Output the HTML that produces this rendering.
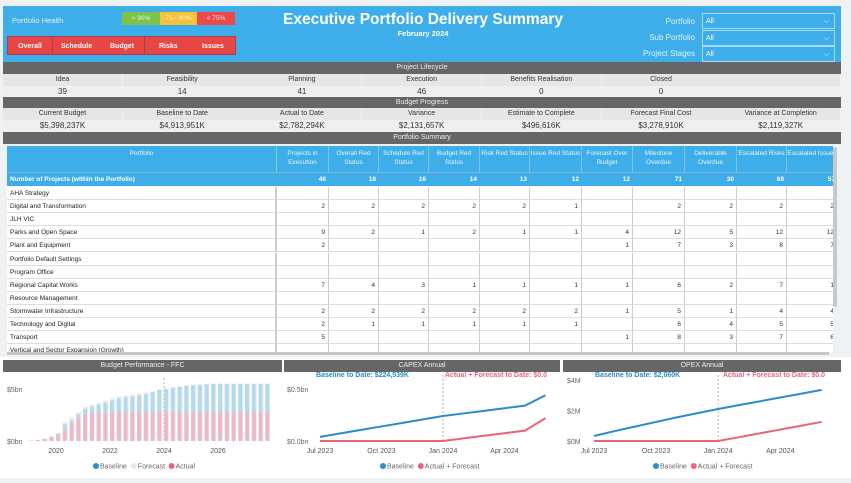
<!DOCTYPE html>
<html><head><meta charset="utf-8">
<style>
*{box-sizing:border-box;margin:0;padding:0}
body{width:851px;height:483px;background:#eef2f5;font-family:"Liberation Sans",sans-serif;position:relative;overflow:hidden}
.a{position:absolute}
.bar{background:#666;color:#eee;font-size:7px;text-align:center;line-height:12px}
.cell{position:absolute;text-align:center;font-size:7px;color:#333}
.h{background:#e6e6e6}.v{background:#efefef;font-size:8px}
.btn{position:absolute;top:36px;height:19px;background:#e84545;color:#fff;font-size:7px;font-weight:bold;line-height:19px;border:1px solid #a04060}
.dd{position:absolute;left:702px;width:133px;height:16px;border:1px solid #a8d8f4;color:#fff;font-size:7px;line-height:15px;padding-left:3px}
.dd span{position:absolute;right:5px;top:0;font-size:7px}
.lbl{position:absolute;right:156px;color:#dff1fb;font-size:8px;text-align:right}
.tc{position:absolute;font-size:6.5px;color:#333;text-align:right;padding-right:3px;border-right:1px solid #ccc;border-bottom:1px solid #ddd;height:13.1px;line-height:13px}
</style></head><body>
<div class="a" style="left:0;top:0;width:851px;height:6px;background:#eef2f5"></div>
<div class="a" style="left:3px;top:6px;width:838px;height:56px;background:#3daee9"></div>
<div class="a" style="left:12px;top:16px;color:#dff1fb;font-size:7.5px">Portfolio Health</div>
<div class="a" style="left:122px;top:12px;width:38px;height:13px;background:#7cc24b;color:#e8f6dd;font-size:6.5px;text-align:center;line-height:13px">&gt; 90%</div>
<div class="a" style="left:160px;top:12px;width:37px;height:13px;background:#f7c23a;color:#fff4d0;font-size:6.5px;text-align:center;line-height:13px">75 - 90%</div>
<div class="a" style="left:197px;top:12px;width:38px;height:13px;background:#ea4a4a;color:#fde;font-size:6.5px;text-align:center;line-height:13px">&lt; 75%</div>
<div class="btn" style="left:7px;width:46px;text-align:center">Overall</div>
<div class="btn" style="left:52px;width:93px"><span style="position:absolute;left:8px">Schedule</span><span style="position:absolute;left:57px">Budget</span></div>
<div class="btn" style="left:144px;width:92px"><span style="position:absolute;left:14px">Risks</span><span style="position:absolute;left:57px">Issues</span></div>
<div class="a" style="left:230px;width:386px;top:11px;text-align:center;color:#fff;font-size:15.5px;font-weight:bold">Executive Portfolio Delivery Summary</div>
<div class="a" style="left:230px;width:386px;top:29px;text-align:center;color:#fff;font-size:7.5px;font-weight:bold">February 2024</div>
<div class="lbl" style="top:17px">Portfolio</div>
<div class="lbl" style="top:33px">Sub Portfolio</div>
<div class="lbl" style="top:49px">Project Stages</div>
<div class="dd" style="top:13px">All<span>⌵</span></div>
<div class="dd" style="top:30px">All<span>⌵</span></div>
<div class="dd" style="top:46px">All<span>⌵</span></div>

<div class="a bar" style="left:3px;top:62px;width:838px;height:12px">Project Lifecycle</div>
<div class="a bar" style="left:3px;top:97px;width:838px;height:11px;line-height:11px">Budget Progress</div>
<div class="a bar" style="left:3px;top:132px;width:838px;height:12px">Portfolio Summary</div>
<div id="kpis"></div>
<div class="a" id="tbl" style="left:7px;top:146px;width:826px;height:206px;overflow:hidden;background:#fff"></div>
<div class="a" style="left:833px;top:147px;width:4px;height:160px;background:#c8c8c8;border-radius:2px"></div>
<div class="a" style="left:7px;top:352px;width:822px;height:3px;background:#c8c8c8"></div>

<div class="a" style="left:0;top:357px;width:851px;height:121px;background:#fff"></div>
<div class="a bar" style="left:3px;top:360px;width:279px;height:12px">Budget Performance - FFC</div>
<div class="a bar" style="left:284px;top:360px;width:276px;height:12px">CAPEX Annual</div>
<div class="a bar" style="left:563px;top:360px;width:278px;height:12px">OPEX Annual</div>
<svg class="a" id="charts" style="left:0;top:0" width="851" height="483" font-family="Liberation Sans, sans-serif"></svg>

<script>
// KPI data
const lifecycleLabels=["Idea","Feasibility","Planning","Execution","Benefits Realisation","Closed",""];
const lifecycleValues=["39","14","41","46","0","0",""];
const budgetLabels=["Current Budget","Baseline to Date","Actual to Date","Variance","Estimate to Complete","Forecast Final Cost","Variance at Completion"];
const budgetValues=["$5,398,237K","$4,913,951K","$2,782,294K","$2,131,657K","$496,616K","$3,278,910K","$2,119,327K"];
// table data
const tableHeaders=["Projects in Execution","Overall Red Status","Schedule Red Status","Budget Red Status","Risk Red Status","Issue Red Status","Forecast Over Budget","Milestone Overdue","Deliverable Overdue","Escalated Risks","Escalated Issues"];
const totalRow=[46,18,16,14,13,12,12,71,30,69,57];
const portfolioNames=["AHA Strategy","Digital and Transformation","JLH VIC","Parks and Open Space","Plant and Equipment","Portfolio Default Settings","Program Office","Regional Capital Works","Resource Management","Stormwater Infrastructure","Technology and Digital","Transport","Vertical and Sector Expansion (Growth)"];
const portfolioValues=[
[],
[2,2,2,2,2,1,"",2,2,2,2],
[],
[9,2,1,2,1,1,4,12,5,12,12],
[2,"","","","","",1,7,3,8,7],
[],[],
[7,4,3,1,1,1,1,6,2,7,1],
[],
[2,2,2,2,2,2,1,5,1,4,4],
[2,1,1,1,1,1,"",6,4,5,5],
[5,"","","","","",1,8,3,7,6],
[]];
// budget performance (quarterly from 2019 Q1, $bn)
const ffcQuarters=36;
const ffcBaseline=[0.05,0.1,0.2,0.4,0.7,1.6,2.0,2.6,3.1,3.3,3.5,3.7,3.9,4.1,4.2,4.3,4.4,4.5,4.7,4.9,5.0,5.1,5.2,5.3,5.35,5.4,5.45,5.5,5.5,5.5,5.5,5.5,5.5,5.5,5.5,5.5];
const ffcForecast=[0.05,0.1,0.2,0.45,0.8,1.8,2.3,2.8,3.3,3.5,3.7,3.9,4.1,4.3,4.4,4.5,4.6,4.7,4.8,5.0,5.1,5.2,5.3,5.35,5.4,5.45,5.5,5.5,5.5,5.5,5.5,5.5,5.5,5.5,5.5,5.5];
const ffcActual=[0.05,0.1,0.2,0.35,0.6,1.1,1.7,2.2,2.5,2.7,2.8,2.8,2.8,2.8,2.8,2.8,2.8,2.8,2.8,2.8,2.8,2.8,2.8,2.8,2.8,2.8,2.8,2.8,2.8,2.8,2.8,2.8,2.8,2.8,2.8,2.8];
const ffcYearTicks=[2020,2022,2024,2026];
// CAPEX ($bn), monthly Jul 2023 - Jun 2024
const capexBaseline=[0.04,0.073,0.107,0.14,0.173,0.207,0.24,0.265,0.29,0.315,0.34,0.44];
const capexActual=[0,0,0,0,0,0,0,0.025,0.05,0.075,0.1,0.22];
const capexTicks=[0,0.5];const capexTickLabels=["$0.0bn","$0.5bn"];
// OPEX ($M)
const opexBaseline=[0.33,0.65,0.95,1.25,1.55,1.83,2.1,2.35,2.6,2.85,3.1,3.35];
const opexActual=[0,0,0,0,0,0,0,0.25,0.5,0.75,1.0,1.25];
const opexTicks=[0,2,4];const opexTickLabels=["$0M","$2M","$4M"];
const monthTicks=[0,3,6,9];const monthTickLabels=["Jul 2023","Oct 2023","Jan 2024","Apr 2024"];

// KPIs
const kp=document.getElementById('kpis');
function kpiRow(labels,values,top,nm){
  labels.forEach((l,i)=>{
    const x=3+i*119.7;
    const h=document.createElement('div');h.className='cell h';
    h.style.cssText=`left:${x}px;top:${top}px;width:119px;height:12px;line-height:12px`;h.textContent=l;
    
    
    kp.appendChild(h);
    const v=document.createElement('div');v.className='cell v';
    v.style.cssText=`left:${x}px;top:${top+12}px;width:119px;height:11px;line-height:11px`;v.textContent=values[i];
    
    
    kp.appendChild(v);
  });
}
kpiRow(lifecycleLabels,lifecycleValues,74,'lifecycle-stage');
kpiRow(budgetLabels,budgetValues,108,'budget-metric');

// table
const tb=document.getElementById('tbl');
const colX=[0,270,322,372,422,473,523,575,626,678,730,780,831];
function add(html,css,cls,nm){const d=document.createElement('div');d.className=cls||'a';d.style.cssText=css;d.innerHTML=html;


tb.appendChild(d);return d;}
add('Portfolio',`left:0;top:0;width:270px;height:26px;background:#3daee9;color:#e6f4fc;font-size:6.5px;text-align:center;padding-top:4px;border-right:1px solid #8cc`,'a','portfolio-column-header');
tableHeaders.forEach((t,i)=>{add(t,`left:${colX[i+1]}px;top:0;width:${colX[i+2]-colX[i+1]}px;height:26px;background:#3daee9;color:#e6f4fc;font-size:6.5px;text-align:center;padding-top:3px;line-height:9px;border-right:1px solid #7cc4ec`,'a','column-header');});
add('Number of Projects (within the Portfolio)',`left:0;top:26px;width:270px;height:14px;background:#3daee9;color:#fff;font-size:6.5px;font-weight:bold;line-height:14px;padding-left:3px;border-top:1px solid #8ac`,'a','total-row-label');
totalRow.forEach((v,i)=>{add(v,`left:${colX[i+1]}px;top:26px;width:${colX[i+2]-colX[i+1]}px;height:14px;background:#3daee9;color:#fff;font-size:6.5px;font-weight:bold;line-height:14px;text-align:right;padding-right:3px;border-top:1px solid #8ac`,'a','total-value');});
portfolioNames.forEach((n,r)=>{
  const y=41+r*13.1;
  add(n,`left:0;top:${y}px;width:270px;height:13.1px;font-size:6.5px;color:#222;line-height:13px;padding-left:3px;border-bottom:1px solid #ddd;border-right:2px solid #ccc`,'a','portfolio-row-label');
  for(let i=0;i<11;i++){const v=portfolioValues[r][i];
    add(v===undefined?'':v,`left:${colX[i+1]}px;top:${y}px;width:${colX[i+2]-colX[i+1]}px`,'tc','portfolio-value');}
});

// charts
const svg=document.getElementById('charts');const NS='http://www.w3.org/2000/svg';
function el(t,a,nm,txt){const e=document.createElementNS(NS,t);for(const k in a)e.setAttribute(k,a[k]);if(txt!==undefined)e.textContent=txt;


svg.appendChild(e);return e;}
// chart 1
const fx=q=>29+q*6.75, fy=v=>441-v*10.4;
el('text',{x:7,y:392,'font-size':7,fill:'#666'},'y-tick-label','$5bn');
el('text',{x:7,y:444,'font-size':7,fill:'#666'},'y-tick-label','$0bn');
for(let q=0;q<ffcQuarters;q++){
  el('rect',{x:fx(q),y:fy(ffcForecast[q]),width:5,height:441-fy(ffcForecast[q]),fill:'#ececec'},'forecast-bar');
  el('rect',{x:fx(q),y:fy(ffcBaseline[q]),width:4,height:441-fy(ffcBaseline[q]),fill:'#b5d9ef'},'baseline-bar');
  el('rect',{x:fx(q)+0.5,y:fy(ffcActual[q]),width:3.5,height:441-fy(ffcActual[q]),fill:'#f2b6c4'},'actual-bar');
}
ffcYearTicks.forEach(y=>el('text',{x:fx((y-2019)*4),y:453,'font-size':7,fill:'#555','text-anchor':'middle'},'x-tick-label',y));
el('line',{x1:fx(20),x2:fx(20),y1:378,y2:441,stroke:'#ccc','stroke-dasharray':'2,2','stroke-width':1.5},'today-line');
function legend(cx,items,nm){let x=cx;items.forEach(([c,t])=>{el('circle',{cx:x,cy:466,r:3,fill:c},nm+'-marker');el('text',{x:x+4,y:468.5,'font-size':7,fill:'#666'},nm+'-label',t);x+=9+t.length*3.6;});}
legend(96,[['#2a8cc8','Baseline'],['#e8e8e8','Forecast'],['#e8647c','Actual']],'budget-legend');
// line charts
function lineChart(x0,dx,yZero,ppu,base,act,ticks,tlabels,tickX,nm,left,ann1,ann2,annR){
  const X=i=>x0+i*dx,Y=v=>yZero-v*ppu;
  ticks.forEach((t,i)=>{el('text',{x:left,y:Y(t)+3,'font-size':7,fill:'#666'},nm+'-y-tick',tlabels[i]);});
  monthTicks.forEach((m,i)=>el('text',{x:X(m),y:453,'font-size':7,fill:'#555','text-anchor':'middle'},nm+'-x-tick',monthTickLabels[i]));
  el('line',{x1:X(6),x2:X(6),y1:375,y2:441,stroke:'#ccc','stroke-dasharray':'2,2','stroke-width':1.5},nm+'-today-line');
  el('polyline',{points:act.map((v,i)=>X(i)+','+Y(v)).join(' '),fill:'none',stroke:'#e8647c','stroke-width':2},nm+'-actual-line');
  el('polyline',{points:base.map((v,i)=>X(i)+','+Y(v)).join(' '),fill:'none',stroke:'#2a8cc8','stroke-width':2},nm+'-baseline-line');
  el('text',{x:ann1,y:377,'font-size':7,fill:'#2a8cc8','font-weight':'bold'},nm+'-baseline-annotation',tickX);
  el('text',{x:annR,y:377,'font-size':7,fill:'#e8647c','font-weight':'bold','text-anchor':'end'},nm+'-actual-annotation',ann2);
}
lineChart(320,20.5,441,104,capexBaseline,capexActual,capexTicks,capexTickLabels,'Baseline to Date: $224,539K','capex',287,316,'Actual + Forecast to Date:  $0.0',547);
lineChart(594,20.7,441,15.25,opexBaseline,opexActual,opexTicks,opexTickLabels,'Baseline to Date: $2,060K','opex',567,595,'Actual + Forecast to Date:  $0.0',825);
legend(383,[['#2a8cc8','Baseline'],['#e8647c','Actual + Forecast']],'capex-legend');
legend(656,[['#2a8cc8','Baseline'],['#e8647c','Actual + Forecast']],'opex-legend');
</script>
</body></html>
